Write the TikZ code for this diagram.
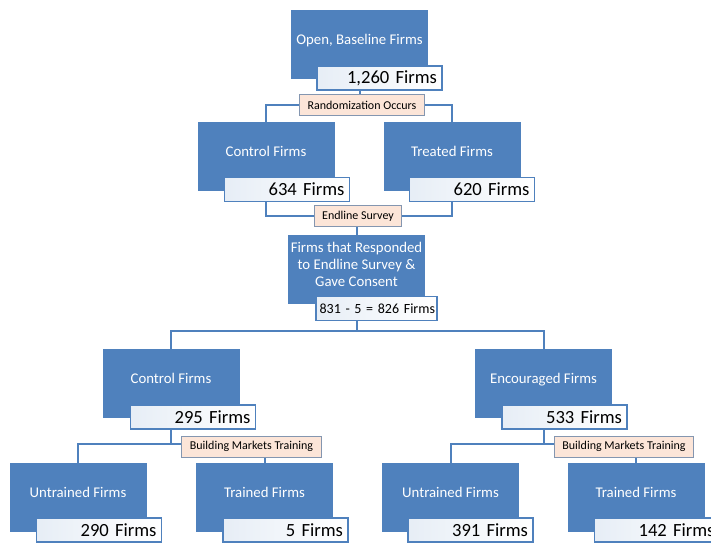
\documentclass[tikz,border=0pt]{standalone}
\usepackage{fontspec}
\setmainfont{Carlito}
\usetikzlibrary{backgrounds}
\definecolor{boxblue}{HTML}{4F81BD}
\definecolor{tagfill}{HTML}{FCE5D8}
\definecolor{tagline}{HTML}{8496B0}
\begin{document}
\begin{tikzpicture}[x=1pt, y=-1pt,
  group/.style={rectangle, fill=boxblue, draw=boxblue, minimum width=136pt, minimum height=68pt, text=white, font=\fontsize{14.8}{17}\selectfont, align=center, text depth=10pt, inner sep=2pt},
  count/.style={rectangle, draw=boxblue, line width=1.4pt, left color=boxblue!14, right color=white, minimum height=24pt, text width=115pt, align=right, inner xsep=5pt, inner ysep=0pt, font=\fontsize{18.6}{20}\selectfont, anchor=north east},
  tag/.style={rectangle, fill=tagfill, draw=tagline, line width=1pt, minimum height=21pt, inner xsep=8pt, font=\fontsize{12}{13}\selectfont},
  link/.style={draw=boxblue, line width=2pt}]

	\clip (0,0) rectangle (711,542);

	\node[group] (base) at (359.5,44) {Open, Baseline Firms};
	\node[count] (base-n) at ([xshift=15pt,yshift=13pt]base.south east) {1,260 Firms};
	\node[tag] (rand) at (362,105) {Randomization Occurs};

	\node[group] (ctrl) at (266,156.5) {Control Firms};
	\node[count] (ctrl-n) at ([xshift=16pt,yshift=14pt]ctrl.south east) {634 Firms};
	\node[group] (treat) at (452,156.5) {Treated Firms};
	\node[count] (treat-n) at ([xshift=15pt,yshift=14pt]treat.south east) {620 Firms};
	\node[tag] (endl) at (358,216) {Endline Survey};

	\node[group] (resp) at (356.5,269.5) {Firms that Responded\\to Endline Survey \&\\Gave Consent};
	\node[count, text width=117pt, inner xsep=2pt, font=\fontsize{14}{16}\selectfont] (resp-n) at ([xshift=13pt,yshift=8pt]resp.south east) {\mbox{831 - 5 = 826 Firms}};

	\node[group] (ctrl2) at (171,383) {Control Firms};
	\node[count] (ctrl2-n) at ([xshift=17pt,yshift=13pt]ctrl2.south east) {295 Firms};
	\node[group] (enc) at (543.5,383) {Encouraged Firms};
	\node[count] (enc-n) at ([xshift=16pt,yshift=13pt]enc.south east) {533 Firms};
	\node[tag] (train1) at (251.5,446.5) {Building Markets Training};
	\node[tag] (train2) at (624,446.5) {Building Markets Training};

	\node[group] (untr1) at (78,497) {Untrained Firms};
	\node[count] (untr1-n) at ([xshift=16pt,yshift=14pt]untr1.south east) {290 Firms};
	\node[group] (tr1) at (264.5,497) {Trained Firms};
	\node[count] (tr1-n) at ([xshift=16pt,yshift=14pt]tr1.south east) {5 Firms};
	\node[group] (untr2) at (450.5,497) {Untrained Firms};
	\node[count] (untr2-n) at ([xshift=15pt,yshift=14pt]untr2.south east) {391 Firms};
	\node[group] (tr2) at (636,497) {Trained Firms};
	\node[count] (tr2-n) at ([xshift=16pt,yshift=14pt]tr2.south east) {142 Firms};

	\coordinate (fork1) at (359.5,105);
	\coordinate (fork3) at (356.5,331);
	\coordinate (fork4) at (171,444);
	\coordinate (fork5) at (543.5,444);

	\begin{scope}[on background layer]
		\draw[link] (base) -- (fork1);
		\draw[link] (ctrl) |- (fork1) -| (treat);
		\draw[link] (ctrl) |- (endl) -| (treat);
		\draw[link] (resp) -- (resp |- endl);
		\draw[link] (resp) -- (fork3);
		\draw[link] (ctrl2) |- (fork3) -| (enc);
		\draw[link] (ctrl2) -- (fork4);
		\draw[link] (untr1) |- (fork4) -| (tr1);
		\draw[link] (enc) -- (fork5);
		\draw[link] (untr2) |- (fork5) -| (tr2);
	\end{scope}
\end{tikzpicture}
\end{document}
